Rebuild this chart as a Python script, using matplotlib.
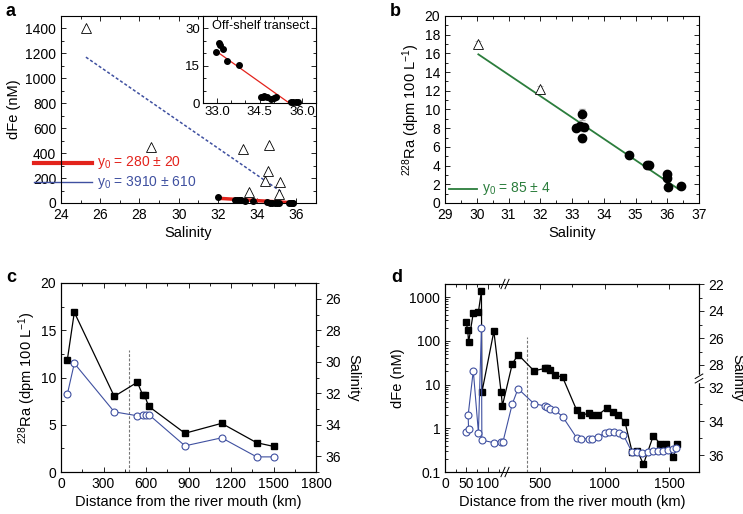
import numpy as np
import matplotlib
matplotlib.use('Agg')
import matplotlib.pyplot as plt
from matplotlib.ticker import MultipleLocator, FixedLocator, LogLocator, NullFormatter

plt.rcParams['font.family'] = ['Liberation Sans', 'DejaVu Sans']
plt.rcParams['mathtext.fontset'] = 'custom'
plt.rcParams['mathtext.rm'] = 'Liberation Sans'
plt.rcParams['mathtext.it'] = 'Liberation Sans:italic'
plt.rcParams['font.size'] = 10
plt.rcParams['axes.linewidth'] = 0.8

RED = '#e3231c'
BLUE = '#3f50a0'
GREEN = '#2b7d3c'

# ---- panel a : dFe vs salinity
a_river_sal = [25.27, 28.59, 33.28, 34.62, 34.55, 34.38, 35.17, 33.57, 35.09]
a_river_fe = [1400, 452, 431, 463, 259, 177, 166, 91, 70]
a_shelf_sal = [32.0, 32.85, 32.96, 33.05, 33.11, 33.2, 33.36, 33.77, 34.5, 34.66,
               34.78, 34.9, 35.0, 35.1, 35.6, 35.7, 35.8, 35.85]
a_shelf_fe = [48, 28, 20.5, 24.3, 23.4, 21.9, 16.9, 15.1, 6, 2.7,
              2.5, 1.6, 2.0, 2.3, 0.4, 0.6, 0.5, 0.3]
a_red_sal = [32.0, 35.8]
a_red_fe = [38, 2]
a_blue_sal = [25.27, 35.22]
a_blue_fe = [1170, 91]

inset_sal = [32.96, 33.05, 33.11, 33.2, 33.36, 33.77, 34.55, 34.62, 34.66, 34.78,
             34.9, 35.0, 35.1, 35.6, 35.7, 35.8, 35.85]
inset_fe = [20.5, 24.3, 23.4, 21.9, 16.9, 15.1, 2.6, 2.3, 2.7, 2.5,
            1.6, 2.0, 2.3, 0.4, 0.6, 0.5, 0.3]
inset_fit_sal = [32.95, 35.55]
inset_fit_fe = [21, 0]

# ---- panel b : 228Ra vs salinity
b_tri_sal = [30.05, 32.0]
b_tri_ra = [17.0, 12.2]
b_tri_err = [0.35, 0.35]
b_sal = [33.12, 33.33, 33.30, 33.39, 33.25, 34.80, 35.35, 35.42, 36.0, 36.0, 36.02, 36.43]
b_ra = [8.0, 9.5, 6.9, 8.1, 8.2, 5.1, 4.1, 4.1, 3.1, 2.7, 1.7, 1.8]
b_err = [0.35, 0.6, 0.35, 0.4, 0.4, 0.15, 0.15, 0.15, 0.15, 0.15, 0.15, 0.15]
b_fit_sal = [30.05, 36.35]
b_fit_ra = [15.9, 1.5]

# ---- panel c : 228Ra and salinity along transect
c_km = [45, 94, 376, 539, 578, 590, 619, 875, 1134, 1381, 1503]
c_ra = [11.9, 16.9, 8.0, 9.5, 8.1, 8.1, 6.95, 4.1, 5.15, 3.1, 2.7]
c_sal_km = [45, 94, 376, 539, 581, 598, 619, 875, 1134, 1381, 1503]
c_sal = [32.05, 30.1, 33.18, 33.43, 33.35, 33.35, 33.35, 35.34, 34.83, 36.04, 36.04]
c_front_km = 482

# ---- panel d : dFe and salinity along transect
d_fe_km = [49, 53, 55, 66, 78, 85, 86, 114, 131, 134,
           286, 331, 454, 542, 557, 578, 619, 676,
           785, 815, 880, 900, 952, 1017, 1063, 1106, 1158,
           1214, 1253, 1300, 1377, 1429, 1475, 1532, 1558]
d_fe = [266, 180, 92, 438, 462, 1384, 6.6, 165, 6.6, 3.3,
        29.6, 48.5, 20.7, 23.5, 23.5, 21.5, 16.5, 14.6,
        2.56, 1.97, 2.22, 2.04, 2.04, 2.9, 2.34, 2.04, 1.38,
        0.28, 0.31, 0.15, 0.68, 0.44, 0.44, 0.22, 0.44]
d_sal_km = [49, 55, 54, 66, 78, 85, 86, 114, 131, 135,
            286, 331, 454, 542, 557, 578, 619, 676,
            785, 815, 880, 900, 952, 1003, 1037, 1073, 1112, 1145,
            1210, 1249, 1292, 1338, 1377, 1416, 1454, 1493, 1532, 1553]
d_sal = [34.67, 34.47, 33.66, 28.42, 34.69, 25.24, 35.12, 35.28, 35.25, 35.25,
         33.0, 32.1, 32.98, 33.12, 33.18, 33.28, 33.37, 33.75,
         35.0, 35.05, 35.05, 35.03, 34.94, 34.69, 34.63, 34.63, 34.72, 34.82,
         35.8, 35.8, 35.86, 35.8, 35.76, 35.74, 35.74, 35.7, 35.66, 35.6]
d_front_km = 400


def style(ax, right=True):
    ax.tick_params(which='both', direction='in', top=True, right=right, width=0.6)
    ax.tick_params(which='major', length=3.5)
    ax.tick_params(which='minor', length=2)


W, H = 743, 514
fig = plt.figure(figsize=(W / 100, H / 100), dpi=100)


def box(l, r, t, b):
    return [l / W, 1 - b / H, (r - l) / W, (b - t) / H]


# ================= a
ax = fig.add_axes(box(61, 316, 16, 203))
ax.plot(a_blue_sal, a_blue_fe, color=BLUE, lw=1.1, ls=(0, (2, 1.4)))
ax.plot(a_red_sal, a_red_fe, color=RED, lw=2.5, zorder=2)
ax.plot(a_shelf_sal, a_shelf_fe, 'o', color='black', ms=4, zorder=3, clip_on=False)
ax.plot(a_river_sal, a_river_fe, '^', mfc='white', mec='black', mew=0.6, ms=7, zorder=4)
ax.set_xlim(24, 37)
ax.set_ylim(0, 1500)
ax.xaxis.set_major_locator(FixedLocator([24, 26, 28, 30, 32, 34, 36]))
ax.xaxis.set_minor_locator(MultipleLocator(1))
ax.yaxis.set_major_locator(FixedLocator(list(range(0, 1401, 200))))
ax.yaxis.set_minor_locator(MultipleLocator(100))
style(ax)
ax.set_xlabel('Salinity', fontsize=10.5, labelpad=3)
ax.set_ylabel('dFe (nM)', fontsize=10.5, labelpad=3)
ax.plot([-0.106, 0.122], [0.214, 0.214], color=RED, lw=3, transform=ax.transAxes, clip_on=False)
ax.plot([-0.106, 0.122], [0.112, 0.112], color=BLUE, lw=1, transform=ax.transAxes, clip_on=False)
ax.text(0.14, 0.214, r'y$_0$ = 280 ± 20', color=RED, fontsize=10, va='center',
        transform=ax.transAxes)
ax.text(0.14, 0.112, r'y$_0$ = 3910 ± 610', color=BLUE, fontsize=10, va='center',
        transform=ax.transAxes)

ins = fig.add_axes(box(203, 316, 16, 103))
ins.plot(inset_fit_sal, inset_fit_fe, color=RED, lw=0.9)
ins.plot(inset_sal, inset_fe, 'o', color='black', ms=4, clip_on=False, zorder=3)
ins.set_xlim(32.5, 36.5)
ins.set_ylim(0, 35)
ins.xaxis.set_major_locator(FixedLocator([33.0, 34.5, 36.0]))
ins.xaxis.set_major_formatter(matplotlib.ticker.FormatStrFormatter('%.1f'))
ins.xaxis.set_minor_locator(MultipleLocator(0.5))
ins.yaxis.set_major_locator(FixedLocator([0, 15, 30]))
ins.yaxis.set_minor_locator(MultipleLocator(5))
style(ins)
ins.tick_params(labelsize=9.5, pad=2)
ins.text(0.51, 0.88, 'Off-shelf transect', fontsize=9.2, ha='center', va='center',
         transform=ins.transAxes, bbox=dict(facecolor='white', edgecolor='none', pad=0.3))

# ================= b
ax = fig.add_axes(box(445, 699, 16, 203))
ax.plot(b_fit_sal, b_fit_ra, color=GREEN, lw=1.3, zorder=2)
ax.errorbar(b_tri_sal, b_tri_ra, yerr=b_tri_err, fmt='^', mfc='white', mec='black', mew=0.6,
            ms=7, ecolor='#aaaaaa', elinewidth=0.8, capsize=2, zorder=3)
ax.errorbar(b_sal, b_ra, yerr=b_err, fmt='o', color='black', ms=6,
            ecolor='#aaaaaa', elinewidth=0.8, capsize=2, zorder=3)
ax.set_xlim(29, 37)
ax.set_ylim(0, 20)
ax.xaxis.set_major_locator(MultipleLocator(1))
ax.xaxis.set_minor_locator(MultipleLocator(0.5))
ax.yaxis.set_major_locator(MultipleLocator(2))
ax.yaxis.set_minor_locator(MultipleLocator(1))
style(ax)
ax.set_xlabel('Salinity', fontsize=10.5, labelpad=3)
ax.set_ylabel(r'$^{228}$Ra (dpm 100 L$^{-1}$)', fontsize=10.5, labelpad=2)
ax.plot([0.016, 0.126], [0.075, 0.075], color=GREEN, lw=1.3, transform=ax.transAxes)
ax.text(0.145, 0.075, r'y$_0$ = 85 ± 4', color=GREEN, fontsize=10, va='center',
        transform=ax.transAxes)

# ================= c
ax = fig.add_axes(box(61, 316, 283, 472))
ax.plot(c_km, c_ra, '-s', color='black', lw=0.9, ms=4.5, zorder=3)
ax.plot([c_front_km, c_front_km], [0, 12.9], color='#777777', lw=0.8, ls=(0, (2.5, 1.5)))
ax.set_xlim(0, 1800)
ax.set_ylim(0, 20)
ax.xaxis.set_major_locator(MultipleLocator(300))
ax.xaxis.set_minor_locator(MultipleLocator(150))
ax.yaxis.set_major_locator(MultipleLocator(5))
ax.yaxis.set_minor_locator(MultipleLocator(2.5))
style(ax, right=False)
ax.set_xlabel('Distance from the river mouth (km)', fontsize=10.5, labelpad=3)
ax.set_ylabel(r'$^{228}$Ra (dpm 100 L$^{-1}$)', fontsize=10.5, labelpad=2)
ax2 = ax.twinx()
ax2.plot(c_sal_km, c_sal, '-o', color=BLUE, lw=0.8, mfc='white', mec=BLUE, mew=0.8, ms=5, zorder=2)
ax2.set_ylim(37, 25)
ax2.yaxis.set_major_locator(MultipleLocator(2))
ax2.yaxis.set_minor_locator(MultipleLocator(1))
ax2.tick_params(which='both', direction='out', width=0.6)
ax2.tick_params(which='major', length=3.5)
ax2.tick_params(which='minor', length=2)
ax2.set_ylabel('Salinity', fontsize=10.5, rotation=270, labelpad=14)

# ================= d
X_KM = [0, 140, 230, 1730]
X_U = [0, 60, 60.001, 254]


def xfwd(x):
    return np.interp(x, X_KM, X_U)


def xinv(u):
    return np.interp(u, X_U, X_KM)


S_VAL = [22, 29, 31.5, 37]
S_U = [0, 94.5, 94.501, 188]


def sfwd(s):
    return np.interp(s, S_VAL, S_U)


def sinv(u):
    return np.interp(u, S_U, S_VAL)


ax = fig.add_axes(box(445, 699, 284, 472))
ax.set_xscale('function', functions=(xfwd, xinv))
ax.set_yscale('log')
ax.plot(d_fe_km, d_fe, '-s', color='black', lw=0.9, ms=4.5, zorder=3)
ax.plot([d_front_km, d_front_km], [0.1, 120], color='#777777', lw=0.8, ls=(0, (2.5, 1.5)))
ax.set_xlim(0, 1730)
ax.set_ylim(0.1, 2000)
ax.xaxis.set_major_locator(FixedLocator([0, 50, 100, 500, 1000, 1500]))
ax.xaxis.set_minor_locator(FixedLocator([25, 75, 125, 750, 1250]))
ax.xaxis.set_major_formatter(matplotlib.ticker.FormatStrFormatter('%d'))
ax.xaxis.set_minor_formatter(NullFormatter())
ax.yaxis.set_major_locator(FixedLocator([0.1, 1, 10, 100, 1000]))
ax.yaxis.set_major_formatter(matplotlib.ticker.FuncFormatter(lambda v, p: '%g' % v))
ax.yaxis.set_minor_locator(LogLocator(subs=np.arange(2, 10)))
ax.yaxis.set_minor_formatter(NullFormatter())
style(ax, right=False)
ax.set_xlabel('Distance from the river mouth (km)', fontsize=10.5, labelpad=3)
ax.set_ylabel('dFe (nM)', fontsize=10.5, labelpad=3)
ax2 = ax.twinx()
ax2.set_yscale('function', functions=(sfwd, sinv))
ax2.plot(d_sal_km, d_sal, '-o', color=BLUE, lw=0.8, mfc='white', mec=BLUE, mew=0.8, ms=5, zorder=2)
ax2.set_ylim(37, 22)
ax2.yaxis.set_major_locator(FixedLocator([22, 24, 26, 28, 32, 34, 36]))
ax2.yaxis.set_major_formatter(matplotlib.ticker.FormatStrFormatter('%d'))
ax2.yaxis.set_minor_locator(FixedLocator([23, 25, 27, 33, 35]))
ax2.yaxis.set_minor_formatter(NullFormatter())
ax2.tick_params(which='both', direction='out', width=0.6)
ax2.tick_params(which='major', length=3.5)
ax2.tick_params(which='minor', length=2)
ax2.set_ylabel('Salinity', fontsize=10.5, rotation=270, labelpad=14)

# break marks on the x axis and the salinity axis
bx = 60 / 254
for yb in (0, 1):
    ax.plot([bx - 0.012, bx + 0.012], [yb, yb], color='white', lw=2.5,
            transform=ax.transAxes, clip_on=False, zorder=5)
    for dx in (-0.008, 0.008):
        ax.plot([bx + dx - 0.008, bx + dx + 0.008], [yb - 0.025, yb + 0.025], color='black',
                lw=0.7, transform=ax.transAxes, clip_on=False, zorder=6)
by = 1 - 94.5 / 188
ax2.plot([1, 1], [by - 0.015, by + 0.015], color='white', lw=2.5,
         transform=ax2.transAxes, clip_on=False, zorder=5)
for dy in (-0.012, 0.012):
    ax2.plot([0.985, 1.015], [by + dy - 0.012, by + dy + 0.012], color='black', lw=0.7,
             transform=ax2.transAxes, clip_on=False, zorder=6)

# panel letters
for lab, x, y in [('a', 5, 12), ('b', 390, 12), ('c', 6, 278), ('d', 391, 278)]:
    fig.text(x / W, 1 - y / H, lab, fontsize=13, fontweight='bold', va='center')

fig.savefig('out.png', dpi=100)
